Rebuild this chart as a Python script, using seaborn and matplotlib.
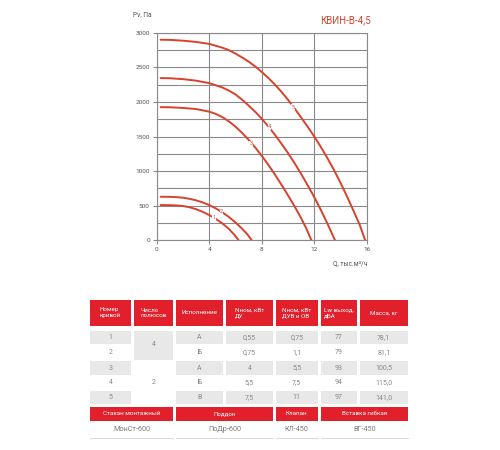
import matplotlib
matplotlib.use("Agg")
import matplotlib.pyplot as plt
from matplotlib.patches import Rectangle
from matplotlib.ticker import MultipleLocator
import pandas as pd
import seaborn as sns

# fan curves: Q (thousand m3/h) and Pv (Pa)
q1 = [0.3, 1.0, 1.5, 2.0, 2.5, 3.0, 3.5, 4.0, 4.5, 5.0, 5.5, 5.9, 6.25]
p1 = [510, 508, 504, 496, 478, 450, 412, 366, 310, 245, 165, 85, 0]
q2 = [0.3, 1.0, 1.5, 2.0, 2.5, 3.0, 3.5, 4.0, 4.5, 5.0, 5.5, 6.0, 6.5, 6.9, 7.25]
p2 = [630, 628, 624, 616, 600, 578, 548, 510, 462, 405, 338, 260, 170, 90, 0]
q3 = [0.3, 1.0, 2.0, 3.0, 4.0, 4.5, 5.0, 5.5, 6.0, 6.5, 7.0, 7.5, 8.0, 8.5, 9.0,
      9.5, 10.0, 10.5, 11.0, 11.4, 11.8]
p3 = [1925, 1923, 1914, 1898, 1860, 1828, 1782, 1720, 1645, 1555, 1455, 1345, 1225,
      1095, 955, 808, 655, 495, 325, 175, 0]
q4 = [0.3, 1.0, 2.0, 3.0, 4.0, 5.0, 5.5, 6.0, 6.5, 7.0, 7.5, 8.0, 8.5, 9.0, 9.5,
      10.0, 10.5, 11.0, 11.5, 12.0, 12.5, 13.0, 13.6]
p4 = [2345, 2343, 2330, 2308, 2273, 2210, 2165, 2110, 2035, 1950, 1860, 1760, 1650,
      1530, 1400, 1265, 1120, 965, 800, 630, 445, 250, 0]
q5 = [0.3, 1.0, 2.0, 3.0, 4.0, 5.0, 5.5, 6.0, 6.5, 7.0, 7.5, 8.0, 8.5, 9.0, 9.5,
      10.0, 10.5, 11.0, 11.5, 12.0, 12.5, 13.0, 13.5, 14.0, 14.5, 15.0, 15.5, 15.9]
p5 = [2900, 2898, 2886, 2868, 2840, 2785, 2750, 2700, 2645, 2585, 2515, 2435, 2350,
      2255, 2150, 2035, 1910, 1780, 1645, 1505, 1355, 1195, 1023, 838, 640, 430, 215, 0]
curve_q = [q1, q2, q3, q4, q5]
curve_p = [p1, p2, p3, p4, p5]
curve_names = ["1", "2", "3", "4", "5"]
# where the little curve numbers sit
label_q = [4.35, 4.95, 7.2, 8.6, 10.4]
label_p = [330, 410, 1395, 1640, 1925]

x_ticks = [0, 4, 8, 12, 16]
y_ticks = [0, 500, 1000, 1500, 2000, 2500, 3000]

# table
head = ["Номер\nкривой", "Число\nполюсов", "Исполнение", "Nном, кВт\nДУ",
        "Nном, кВт\nДУВ и ОВ", "Lw выход,\nдБА", "Масса, кг"]
col_curve = ["1", "2", "3", "4", "5"]
col_poles = ["4", "2"]
col_version = ["А", "Б", "А", "Б", "В"]
col_n_du = ["0,55", "0,75", "4", "5,5", "7,5"]
col_n_duv = ["0,75", "1,1", "5,5", "7,5", "11"]
col_lw = ["77", "79", "93", "94", "97"]
col_mass = ["78,1", "81,1", "100,5", "115,0", "141,0"]
acc_head = ["Стакан монтажный", "Поддон", "Клапан", "Вставка гибкая"]
acc_vals = ["МонСт-600", "ПоДр-600", "КЛ-450", "ВГ-450"]

RED = "#d8412b"
HEAD_RED = "#e2202c"
GRID = "#8a8a8a"
TXT = "#8a8a8a"

sns.set_theme(style="white")
plt.rcParams["font.family"] = ["Roboto", "DejaVu Sans"]

W, H = 500, 450
fig = plt.figure(figsize=(5, 4.5), dpi=100)
fig.patch.set_facecolor("white")


def fx(x):
    return x / W


def fy(y):
    return 1 - y / H


ax = fig.add_axes([fx(156.7), fy(240.3), (366.5 - 156.7) / W, (240.3 - 32.8) / H])

rows = []
for name, qs, ps in zip(curve_names, curve_q, curve_p):
    for q, p in zip(qs, ps):
        rows.append({"Q": q, "Pv": p, "curve": name})
df = pd.DataFrame(rows)

sns.lineplot(data=df, x="Q", y="Pv", hue="curve", palette=[RED] * 5,
             sort=False, estimator=None, legend=False, lw=1.4, ax=ax, zorder=3)

for name, q, p in zip(curve_names, label_q, label_p):
    ax.text(q, p, name, color=RED, fontsize=4, ha="center", va="center", zorder=4,
            bbox=dict(boxstyle="square,pad=0.05", fc="white", ec="none"))

ax.set_xlim(0, 16)
ax.set_ylim(0, 3000)
ax.set_xticks(x_ticks)
ax.set_yticks(y_ticks)
ax.yaxis.set_minor_locator(MultipleLocator(250))
ax.grid(True, which="both", color=GRID, lw=0.8)
ax.tick_params(which="major", length=3, width=0.8, color=GRID, labelsize=4.6,
               labelcolor="#555555", pad=2, direction="out", bottom=True, left=True)
ax.tick_params(which="minor", length=0)
for s in ax.spines.values():
    s.set_color(GRID)
    s.set_linewidth(0.8)
ax.set_xlabel("")
ax.set_ylabel("")

fig.text(fx(133), fy(15), "Pv, Па", fontsize=4.8, color="#555555", va="center", ha="left")
fig.text(fx(371), fy(20), "КВИН-В-4,5", fontsize=7, color=RED, va="center", ha="right")
fig.text(fx(367), fy(264), "Q, тыс.м³/ч", fontsize=4.8, color="#555555", va="center", ha="right")

# table drawn in pixel coordinates
tab = fig.add_axes([0, 0, 1, 1])
tab.set_xlim(0, W)
tab.set_ylim(H, 0)
tab.axis("off")

cols = [(90, 131), (134, 173), (176, 223), (226, 273), (275.5, 318), (320.5, 357), (359.5, 408)]
row_y = [(330.5, 344), (345.5, 359.5), (361, 375), (376, 390), (391, 404)]
GRAY = "#e8e8e8"


def cell(x0, x1, y0, y1, fc):
    tab.add_patch(Rectangle((x0, y0), x1 - x0, y1 - y0, fc=fc, ec="none"))


for (x0, x1), h in zip(cols, head):
    cell(x0, x1, 299.5, 326, HEAD_RED)
    tab.text((x0 + x1) / 2, 312.8, h, color="white", fontsize=4.5, ha="center",
             va="center", multialignment="left", linespacing=1.15)

data_cols = [col_curve, None, col_version, col_n_du, col_n_duv, col_lw, col_mass]
for ci, ((x0, x1), vals) in enumerate(zip(cols, data_cols)):
    if vals is None:
        cell(x0, x1, row_y[0][0], row_y[1][1], GRAY)
        tab.text((x0 + x1) / 2, (row_y[0][0] + row_y[1][1]) / 2, col_poles[0],
                 color=TXT, fontsize=5, ha="center", va="center")
        tab.text((x0 + x1) / 2, (row_y[2][0] + row_y[4][1]) / 2, col_poles[1],
                 color=TXT, fontsize=5, ha="center", va="center")
        continue
    for ri, ((y0, y1), v) in enumerate(zip(row_y, vals)):
        if ri % 2 == 0:
            cell(x0, x1, y0, y1, GRAY)
        tab.text((x0 + x1) / 2, (y0 + y1) / 2, v, color=TXT, fontsize=5,
                 ha="center", va="center")

acc_cols = [(90, 173), (176, 273), (275.5, 318), (320.5, 408)]
for (x0, x1), h, v in zip(acc_cols, acc_head, acc_vals):
    cell(x0, x1, 406.7, 420.7, HEAD_RED)
    tab.text((x0 + x1) / 2, 413.7, h, color="white", fontsize=4.5, ha="center", va="center")
    tab.text((x0 + x1) / 2, 429.5, v, color="#7a7a7a", fontsize=5.2, ha="center", va="center")
    tab.plot([x0, x1], [437.5, 437.5], color="#dcdcdc", lw=0.8)

fig.savefig("out.png", dpi=100, facecolor="white")
